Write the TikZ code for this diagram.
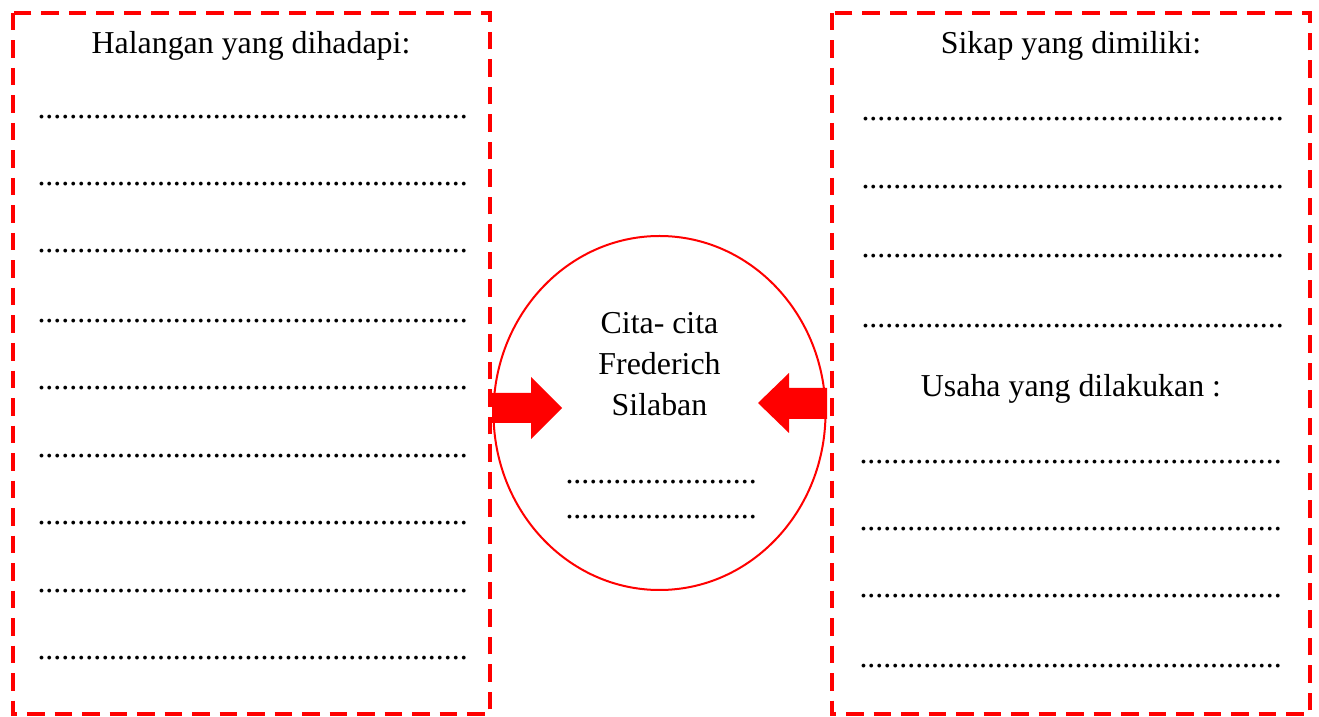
\documentclass[tikz,border=0pt]{standalone}
\usepackage{fontspec}
\setmainfont{Liberation Serif}
\usetikzlibrary{calc}

\newcommand{\titik}[1]{\foreach \i in {1,...,#1}{.}}

\begin{document}
\begin{tikzpicture}[
            x=0.4pt, y=-0.4pt,
            kotak/.style={draw=red, line width=1.6pt, dash pattern=on 7pt off 4pt},
            teks/.style={font=\fontsize{12.75}{16.4}\selectfont, inner sep=0pt},
            isian/.style={teks, anchor=base west},
            panah/.style={fill=red, draw=none},
    ]
    \useasboundingbox (0,0) rectangle (1319,717);

    % kotak kiri dan kanan
    \draw[kotak] (13,13) rectangle (490,714) coordinate (kiri);
    \draw[kotak] (832,13) rectangle (1310,714) coordinate (kanan);

    % lingkaran tengah
    \draw[red, line width=0.8pt] (659.5,413) ellipse (166 and 177);
    \node[teks, align=center] (cita) at (659.5,364) {Cita- cita\\Frederich\\Silaban};
    \node[isian] (c1) at (565,484) {\titik{24}};
    \node[isian] (c2) at (565,519) {\titik{24}};

    % panah
    \fill[panah] (492,393) -- (531,393) -- (531,377) -- (562,408)
        -- (531,439) -- (531,423) -- (492,423) -- cycle;
    \fill[panah] (827,388) -- (789,388) -- (789,373) -- (758,403)
        -- (789,433) -- (789,419) -- (827,419) -- cycle;

    % isian kiri
    \node[teks, anchor=base] (halangan) at (251,54) {Halangan yang dihadapi:};
    \foreach \y [count=\n] in {119,186,253,323,390,458,525,593,660}
        \node[isian] (h\n) at (37,\y) {\titik{54}};

    % isian kanan
    \node[teks, anchor=base] (sikap) at (1071,54) {Sikap yang dimiliki:};
    \foreach \y [count=\n] in {121,189,258,328}
        \node[isian] (s\n) at (861,\y) {\titik{53}};

    \node[teks, anchor=base] (usaha) at (1071,397) {Usaha yang dilakukan :};
    \foreach \y [count=\n] in {464,531,598,668}
        \node[isian] (u\n) at (859,\y) {\titik{53}};
    \end{tikzpicture}
\end{document}
